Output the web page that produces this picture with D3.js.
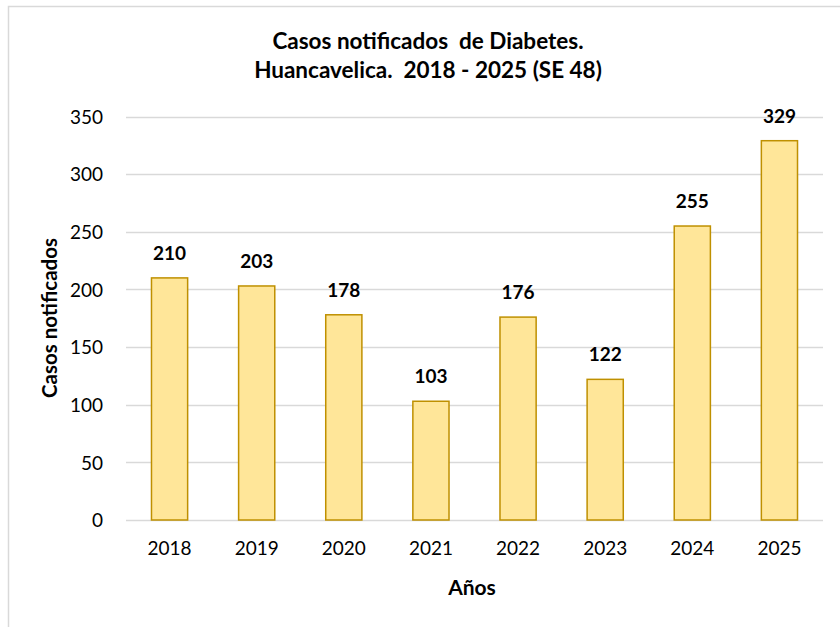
<!DOCTYPE html>
<html>
<head>
<meta charset="utf-8">
<script src="https://cdn.jsdelivr.net/npm/d3@7/dist/d3.min.js"></script>
<style>
  html, body { margin: 0; padding: 0; background: #fff; }
  svg { display: block; font-family: Lato, "Open Sans", sans-serif; }
</style>
</head>
<body>
<svg id="chart" width="840" height="627"></svg>
<script>
// Reported diabetes cases per year, Huancavelica
const years = ["2018", "2019", "2020", "2021", "2022", "2023", "2024", "2025"];
const cases = [210, 203, 178, 103, 176, 122, 255, 329];
const yTicks = [0, 50, 100, 150, 200, 250, 300, 350];
const titleLines = ["Casos notificados  de Diabetes.", "Huancavelica.  2018 - 2025 (SE 48)"];

const svg = d3.select("#chart");
const W = 840, H = 627;
const plot = { left: 126, right: 823, top: 116.5, bottom: 520 };

// outer frame
svg.append("rect")
  .attr("x", 8.5).attr("y", 6.5)
  .attr("width", W).attr("height", H)
  .attr("fill", "none").attr("stroke", "#d9d9d9").attr("stroke-width", 1.5);

const x = d3.scaleBand().domain(years).range([plot.left, plot.right])
  .paddingInner(0.585).paddingOuter(0.2925);
const y = d3.scaleLinear().domain([0, 350]).range([plot.bottom, plot.top]);

// gridlines
svg.append("g")
  .selectAll("line")
  .data(yTicks)
  .join("line")
  .attr("x1", plot.left).attr("x2", plot.right)
  .attr("y1", d => Math.round(y(d)) + 0.5).attr("y2", d => Math.round(y(d)) + 0.5)
  .attr("stroke", "#d9d9d9").attr("stroke-width", 1.3);

// y axis labels
const yAxis = d3.axisLeft(y).tickValues(yTicks).tickSize(0).tickPadding(0);
svg.append("g")
  .attr("transform", `translate(${plot.left - 23},0)`)
  .call(yAxis)
  .call(g => g.select(".domain").remove())
  .call(g => g.selectAll("text")
    .attr("font-family", "Lato, sans-serif")
    .attr("font-size", 19).attr("fill", "#000").attr("dy", "0.35em"));

// x axis labels
const xAxis = d3.axisBottom(x).tickSize(0).tickPadding(0);
svg.append("g")
  .attr("transform", `translate(0,${plot.bottom + 21})`)
  .call(xAxis)
  .call(g => g.select(".domain").remove())
  .call(g => g.selectAll("text")
    .attr("font-family", "Lato, sans-serif")
    .attr("font-size", 19).attr("fill", "#000").attr("dy", "0.71em"));

// bars
svg.append("g")
  .selectAll("rect")
  .data(years.map((yr, i) => ({ yr, v: cases[i] })))
  .join("rect")
  .attr("x", d => x(d.yr))
  .attr("y", d => y(d.v))
  .attr("width", x.bandwidth())
  .attr("height", d => y(0) - y(d.v))
  .attr("fill", "#FFE699")
  .attr("stroke", "#BF9000")
  .attr("stroke-width", 1.5);

// value labels
svg.append("g")
  .selectAll("text")
  .data(years.map((yr, i) => ({ yr, v: cases[i] })))
  .join("text")
  .attr("x", d => x(d.yr) + x.bandwidth() / 2)
  .attr("y", d => y(d.v) - 18)
  .attr("text-anchor", "middle")
  .attr("font-size", 19).attr("font-weight", "bold").attr("fill", "#000")
  .text(d => d.v);

// title
svg.append("g")
  .selectAll("text")
  .data(titleLines)
  .join("text")
  .attr("x", 428)
  .attr("y", (d, i) => 49 + i * 29)
  .attr("text-anchor", "middle")
  .attr("font-size", 22.5).attr("font-weight", "bold").attr("fill", "#000")
  .style("white-space", "pre")
  .text(d => d);

// axis titles
svg.append("text")
  .attr("x", 472).attr("y", 595)
  .attr("text-anchor", "middle")
  .attr("font-size", 21).attr("font-weight", "bold").attr("fill", "#000")
  .text("Años");

svg.append("text")
  .attr("transform", "translate(57,318) rotate(-90)")
  .attr("text-anchor", "middle")
  .attr("font-size", 20.5).attr("font-weight", "bold").attr("fill", "#000")
  .text("Casos notificados");
</script>
</body>
</html>
